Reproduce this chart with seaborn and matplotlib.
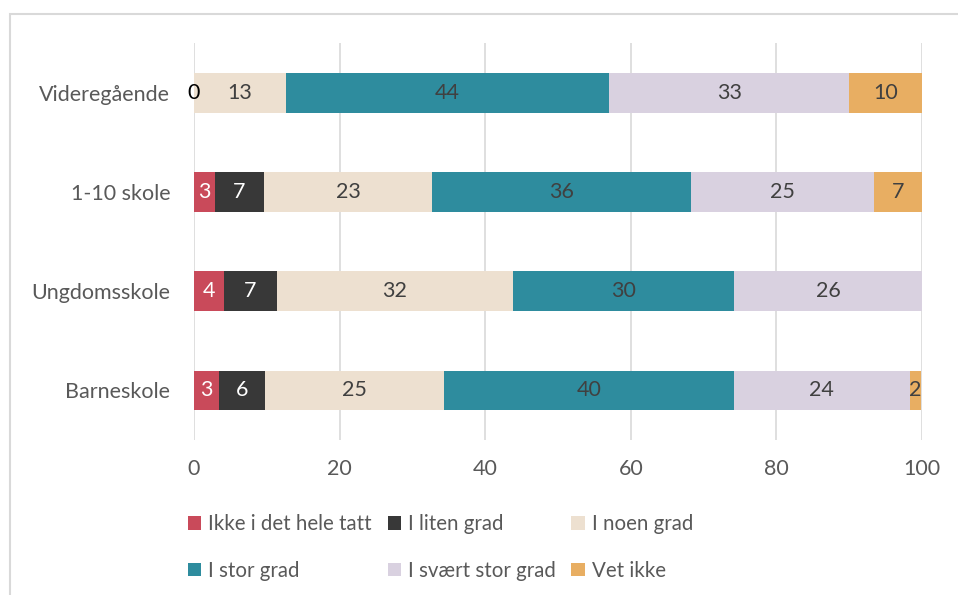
import matplotlib
matplotlib.use("Agg")
import matplotlib.pyplot as plt
import seaborn as sns
import pandas as pd
import numpy as np
from matplotlib.patches import Rectangle, Patch

# ---------------------------
# Data
# ---------------------------
schools = ["Videregående", "1-10 skole", "Ungdomsskole", "Barneskole"]
answers = ["Ikke i det hele tatt", "I liten grad", "I noen grad",
           "I stor grad", "I svært stor grad", "Vet ikke"]
colors = ["#C94A5A", "#383838", "#EDE0D0", "#2E8C9E", "#D9D1E0", "#E8AE62"]
label_colors = ["white", "white", "#404040", "#404040", "#404040", "#404040"]

ikke = [0.0, 2.9, 4.1, 3.4]
liten = [0.0, 6.7, 7.3, 6.3]
noen = [12.6, 23.1, 32.4, 24.7]
stor = [44.4, 35.6, 30.4, 39.7]
svaert = [33.0, 25.1, 25.8, 24.2]
vet = [10.0, 6.6, 0.0, 1.6]

df = pd.DataFrame(dict(zip(answers, [ikke, liten, noen, stor, svaert, vet])),
                  index=schools)
cum = df.cumsum(axis=1)

sns.set_style("white")
plt.rcParams["font.family"] = ["Lato", "DejaVu Sans"]

fig = plt.figure(figsize=(9.58, 5.95), dpi=100)
ax = fig.add_axes([0.2025, 0.2605, 0.76, 0.667])

# stacked bars: draw cumulative totals from the last series backwards
for col, color in reversed(list(zip(answers, colors))):
    sns.barplot(x=cum[col].values, y=schools, orient="h", color=color,
                width=0.4, ax=ax, saturation=1, linewidth=0)

# segment labels
for j, col in enumerate(answers):
    for i, school in enumerate(schools):
        v = df.loc[school, col]
        if v == 0 and not (school == "Videregående" and j == 0):
            continue
        xc = cum.loc[school, col] - v / 2
        c = "black" if v == 0 else label_colors[j]
        ax.text(xc, i, f"{v:.0f}", ha="center", va="center",
                fontsize=15.5, color=c)

ax.set_xlim(0, 100)
ax.set_ylim(3.5, -0.5)
ax.set_xticks(range(0, 101, 20))
ax.grid(axis="x", color="#D9D9D9", linewidth=1.2)
ax.set_axisbelow(True)
for s in ax.spines.values():
    s.set_visible(False)
ax.tick_params(axis="both", length=0, labelsize=15.5, colors="#595959")
ax.tick_params(axis="x", pad=14)
ax.tick_params(axis="y", pad=17)
ax.set_xlabel("")
ax.set_ylabel("")

# legend (column-first ordering to get Excel's rows)
order = [0, 3, 1, 4, 2, 5]
handles = [Patch(facecolor=colors[k], edgecolor="none") for k in order]
labels = [answers[k] for k in order]
fig.legend(handles, labels, ncol=3, loc="upper left",
           bbox_to_anchor=(0.1876, 0.150), frameon=False, fontsize=14.8,
           labelcolor="#595959", handlelength=0.65, handleheight=0.65,
           handletextpad=0.35, columnspacing=0.75, labelspacing=1.3,
           borderaxespad=0)

# outer chart frame
fig.patches.append(Rectangle((10 / 958, -0.1), 1.2, 1 - 14 / 595 + 0.1,
                             transform=fig.transFigure, fill=False,
                             edgecolor="#D9D9D9", linewidth=1.5))

fig.savefig("out.png", dpi=100)
